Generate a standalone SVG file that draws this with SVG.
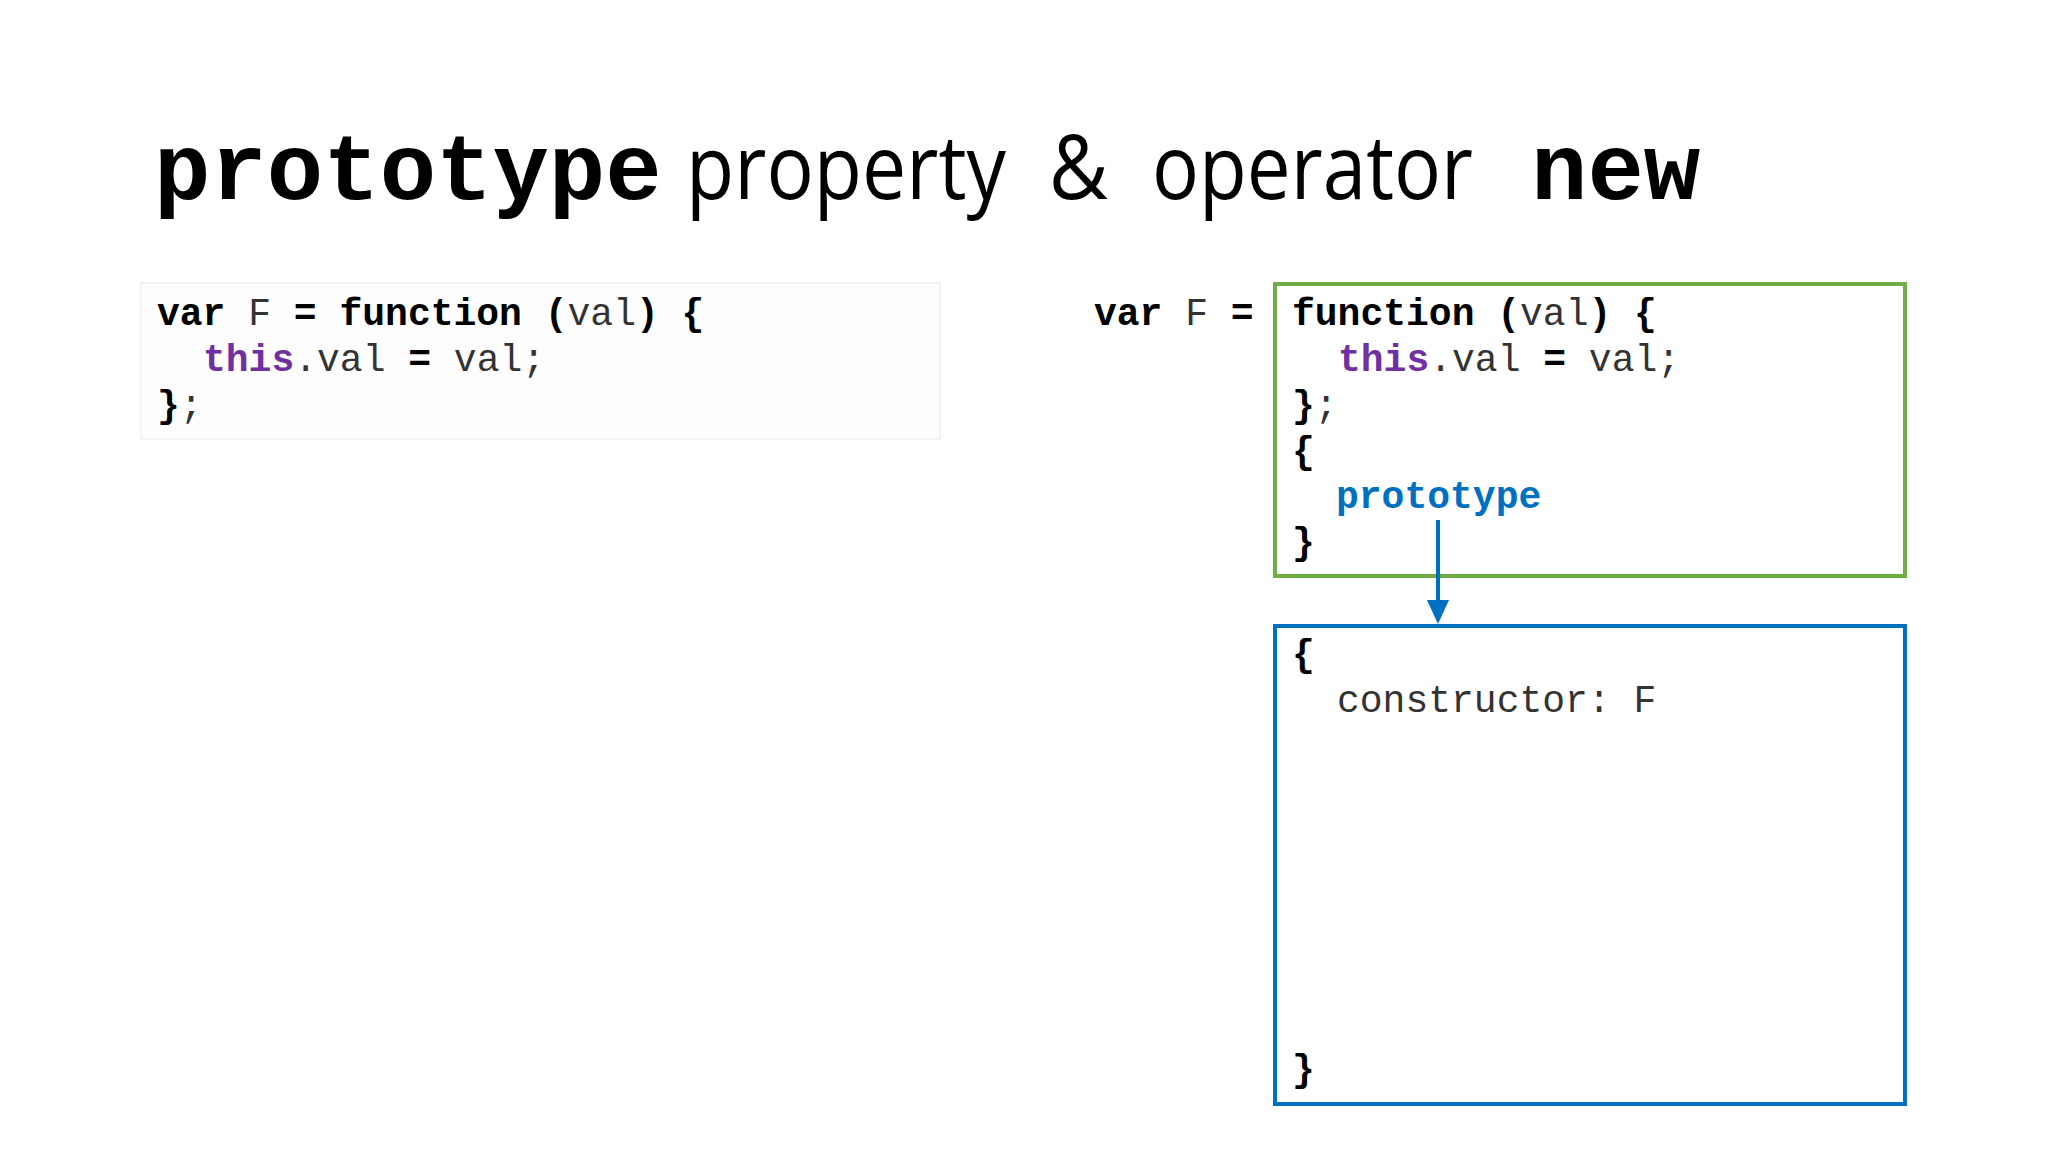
<svg xmlns="http://www.w3.org/2000/svg" width="2048" height="1152" viewBox="0 0 2048 1152">
<style>
.code{font-family:"Liberation Mono","Courier New",monospace;font-size:38px;fill:#333;}
.b{font-weight:bold;fill:#000;}
.kw{font-weight:bold;fill:#7030a0;}
.pr{font-weight:bold;fill:#0070c0;}
.tmono{font-family:"Liberation Mono","Courier New",monospace;font-size:94px;font-weight:bold;fill:#000;}
.tsans{font-family:"Open Sans","Noto Sans",sans-serif;font-size:90px;fill:#000;}
</style>
<rect width="2048" height="1152" fill="#ffffff"/>
<g id="title">
<text class="tmono" x="154" y="199">prototype</text>
<text class="tsans" x="686" y="199" textLength="320" lengthAdjust="spacingAndGlyphs">property</text>
<text class="tsans" x="1049" y="199" textLength="59" lengthAdjust="spacingAndGlyphs">&amp;</text>
<text class="tsans" x="1152" y="199" textLength="321" lengthAdjust="spacingAndGlyphs">operator</text>
<text class="tmono" x="1531" y="199">new</text>
</g>
<g id="left-code">
<rect x="141" y="283" width="799" height="156" fill="#fdfdfd" stroke="#f3f3f3" stroke-width="2"/>
<text class="code" x="157" y="325"><tspan class="b">var</tspan> F <tspan class="b">=</tspan> <tspan class="b">function</tspan> <tspan class="b">(</tspan>val<tspan class="b">)</tspan> <tspan class="b">{</tspan></text>
<text class="code" x="203" y="371"><tspan class="kw">this</tspan>.val <tspan class="b">=</tspan> val;</text>
<text class="code" x="157" y="417"><tspan class="b">}</tspan>;</text>
</g>
<g id="var-label">
<text class="code" x="1094" y="325"><tspan class="b">var</tspan> F <tspan class="b">=</tspan></text>
</g>
<g id="function-box">
<rect x="1275" y="284" width="630" height="292" fill="#ffffff" stroke="#70ad47" stroke-width="4"/>
<text class="code" x="1292" y="325"><tspan class="b">function</tspan> <tspan class="b">(</tspan>val<tspan class="b">)</tspan> <tspan class="b">{</tspan></text>
<text class="code" x="1338" y="371"><tspan class="kw">this</tspan>.val <tspan class="b">=</tspan> val;</text>
<text class="code" x="1292" y="417"><tspan class="b">}</tspan>;</text>
<text class="code" x="1292" y="463"><tspan class="b">{</tspan></text>
<text class="code" x="1336" y="508"><tspan class="pr">prototype</tspan></text>
<text class="code" x="1292" y="554"><tspan class="b">}</tspan></text>
</g>
<g id="prototype-box">
<rect x="1275" y="626" width="630" height="478" fill="#ffffff" stroke="#0070c0" stroke-width="4"/>
<text class="code" x="1292" y="666"><tspan class="b">{</tspan></text>
<text class="code" x="1337" y="712">constructor: F</text>
<text class="code" x="1292" y="1081"><tspan class="b">}</tspan></text>
</g>
<g id="connectors">
<line x1="1438" y1="520" x2="1438" y2="602" stroke="#0070c0" stroke-width="4"/>
<path d="M1427,600 L1449,600 L1438,624 z" fill="#0070c0"/>
</g>
</svg>
